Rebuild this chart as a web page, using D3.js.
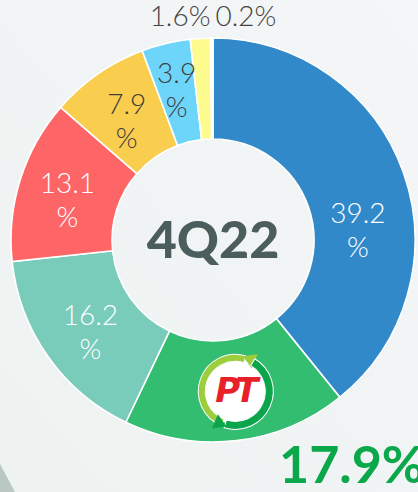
<!DOCTYPE html>
<html>
<head>
<meta charset="utf-8">
<script src="https://cdn.jsdelivr.net/npm/d3@7"></script>
<style>
  html, body { margin: 0; padding: 0; background: #f1f4f4; }
  svg { display: block; }
  .lbl { font-family: Lato, "DejaVu Sans", sans-serif; font-weight: 300; }
</style>
</head>
<body>
<div id="chart"></div>
<script>
var width = 418, height = 492;

// DATA
var shares = [39.2, 17.9, 16.2, 13.1, 7.9, 3.9, 1.6, 0.2];
var sliceColors = ["#3289ca", "#33bd71", "#79cbba", "#fd6567", "#f9cd4d", "#6dd5fa", "#fdfa8e", "#ffffff"];
var labelColors = ["#fff", null, "#fff", "#fff", "#3d3d3d", "#3d3d3d", null, null];
var centerTitle = "4Q22";

var cx = 213, cy = 240, rOut = 202, rIn = 101;

var svg = d3.select("#chart")
  .append("svg")
  .attr("width", width)
  .attr("height", height);

// background
var defs = svg.append("defs");
var bg = defs.append("linearGradient").attr("id", "bg")
  .attr("x1", 0).attr("y1", 1).attr("x2", 1).attr("y2", 0);
bg.append("stop").attr("offset", 0).attr("stop-color", "#eef2f1");
bg.append("stop").attr("offset", 1).attr("stop-color", "#f4f6f7");
svg.append("rect").attr("width", width).attr("height", height).style("fill", "url(#bg)");
svg.append("path")
  .attr("d", "M0,464 L15,492 L0,492 Z")
  .style("fill", "#b9c8c3");

var pie = d3.pie().sort(null).value(function(d) { return d; });
var arcs = pie(shares);

var arc = d3.arc().innerRadius(rIn).outerRadius(rOut);

var g = svg.append("g").attr("transform", "translate(" + cx + "," + cy + ")");

g.selectAll(".slice")
  .data(arcs)
  .enter()
  .append("path")
  .attr("class", "slice")
  .attr("d", arc)
  .style("fill", function(d, i) { return sliceColors[i]; })
  .style("stroke", "#fff")
  .style("stroke-width", 1.6);

// inner labels (value on one line, % under it)
var nudge = [[2, 40], null, [1, 4], [-1, 5], [0, 5], [-1, -3], null, null];
var inner = g.selectAll(".lbl-in")
  .data(arcs.filter(function(d, i) { return labelColors[i]; }))
  .enter()
  .append("text")
  .attr("class", "lbl")
  .attr("text-anchor", "middle")
  .style("font-size", "28px")
  .style("fill", function(d) { return labelColors[d.index]; })
  .attr("transform", function(d) {
    var c = arc.centroid(d), n = nudge[d.index];
    return "translate(" + (c[0] + n[0]) + "," + (c[1] + n[1]) + ")";
  });
inner.append("tspan").attr("x", 0).attr("y", -7).text(function(d) { return d.data.toFixed(1); });
inner.append("tspan").attr("x", 0).attr("y", 27).text("%");

// small slices labelled above the ring
var topLab = [arcs[6], arcs[7]];
g.selectAll(".lbl-top")
  .data(topLab)
  .enter()
  .append("text")
  .attr("class", "lbl")
  .style("font-size", "28px")
  .style("fill", "#444")
  .attr("text-anchor", function(d, i) { return i == 0 ? "end" : "start"; })
  .attr("x", function(d, i) {
    var a = i == 0 ? d.endAngle : d.startAngle;
    return rOut * Math.sin(a) + (i == 0 ? 0 : 5);
  })
  .attr("y", -rOut - 12)
  .text(function(d) { return d.data.toFixed(1) + "%"; });

// centre title
g.append("text")
  .attr("text-anchor", "middle")
  .attr("y", 18)
  .style("font-family", "Lato, 'DejaVu Sans', sans-serif")
  .style("font-weight", 900)
  .style("font-size", "52px")
  .style("fill", "#4c5d5d")
  .text(centerTitle);

// our own share, big under the ring
g.append("text")
  .attr("x", 66)
  .attr("y", rOut + 41)
  .style("font-family", "Lato, 'DejaVu Sans', sans-serif")
  .style("font-weight", 700)
  .style("font-size", "52px")
  .style("fill", "#0aa84a")
  .text(shares[1].toFixed(1) + "%");

// PT logo in the green slice
var mid = (arcs[1].startAngle + arcs[1].endAngle) / 2 - 0.03;
var lr = 153;
var logo = g.append("g")
  .attr("transform", "translate(" + (lr * Math.sin(mid)) + "," + (-lr * Math.cos(mid)) + ") rotate(8)");
logo.append("ellipse").attr("rx", 30).attr("ry", 33).style("fill", "#fff");
logo.append("path")
  .attr("d", d3.arc().innerRadius(30).outerRadius(37).startAngle(-2.9).endAngle(0.15)())
  .style("fill", "#9ccd3d")
  .style("stroke", "#fff").style("stroke-width", 1);
logo.append("path")
  .attr("d", "M3,-36 L17,-40 L13,-25 Z")
  .style("fill", "#9ccd3d");
logo.append("path")
  .attr("d", d3.arc().innerRadius(30).outerRadius(38).startAngle(0.4).endAngle(3.3)())
  .style("fill", "#0ca54b")
  .style("stroke", "#fff").style("stroke-width", 1);
logo.append("path")
  .attr("d", "M-4,36 L-18,40 L-14,25 Z")
  .style("fill", "#0ca54b");
logo.append("text")
  .attr("text-anchor", "middle")
  .attr("x", -1)
  .attr("y", 11)
  .attr("transform", "rotate(-8)")
  .style("font-family", "'DejaVu Sans', sans-serif")
  .style("font-weight", 700)
  .style("font-style", "italic")
  .style("font-size", "34px")
  .style("letter-spacing", "-5px")
  .style("fill", "#e8202a")
  .text("PT");
</script>
</body>
</html>
